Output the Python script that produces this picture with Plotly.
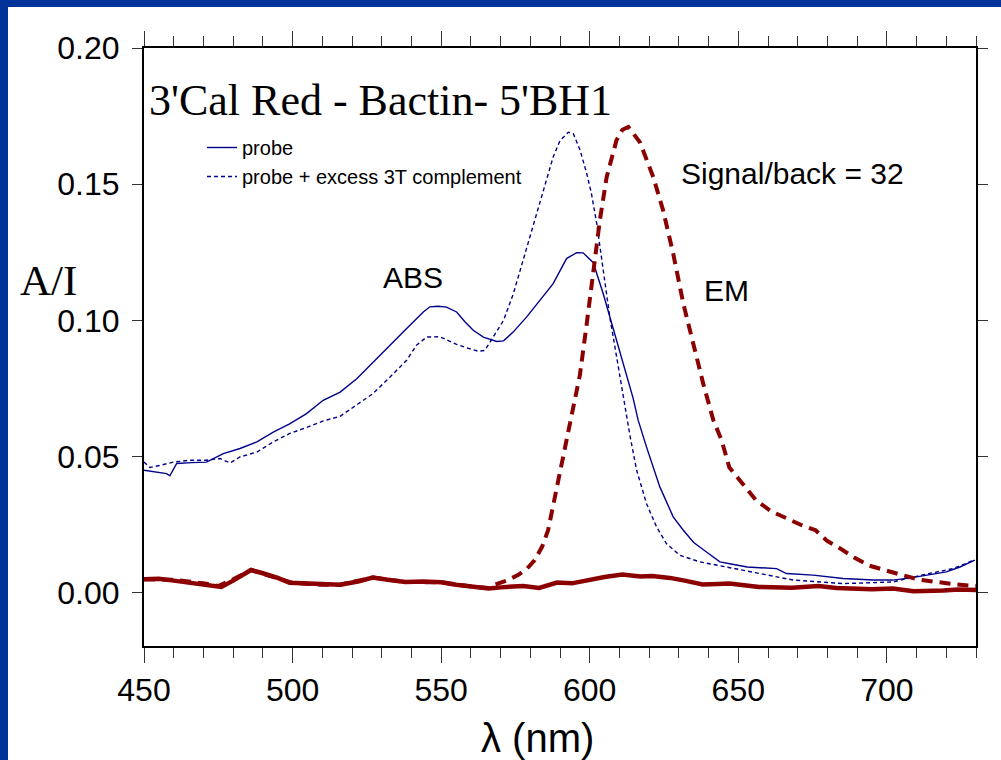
import plotly.graph_objects as go

# ---------------- data ----------------
probe_wl = [450, 454, 457.6, 458.7, 461, 466, 471, 476.7, 482.3, 488, 493.5, 499, 504.7, 510.3, 516, 521.6,
            527, 532.8, 538.4, 544, 546.2, 549, 551.8, 555.2, 558, 560.8, 564.2, 568.7, 571, 574.3, 578.8,
            583.2, 587.7, 592.2, 595.6, 597.8, 601.2, 604.5, 607.9, 611.3, 614.6, 616.3, 619.1, 623.6, 628.1,
            631.5, 635, 639.3, 643.8, 648, 653, 662.9, 666.2, 675.2, 685.3, 695.4, 702, 708, 713.3, 720,
            724.6, 729.6]
probe_abs = [0.045, 0.0445, 0.0438, 0.043, 0.0475, 0.0478, 0.048, 0.0511, 0.053, 0.0554, 0.059, 0.062, 0.0658,
             0.0707, 0.0737, 0.0786, 0.0847, 0.0909, 0.097, 0.1031, 0.105, 0.1052, 0.1049, 0.1031, 0.0995,
             0.0964, 0.0939, 0.0923, 0.0925, 0.0958, 0.1013, 0.1074, 0.1135, 0.1227, 0.1249, 0.1248, 0.1212,
             0.110, 0.097, 0.085, 0.0715, 0.0634, 0.0536, 0.0389, 0.0279, 0.023, 0.0185, 0.015, 0.0114, 0.0105,
             0.0095, 0.0089, 0.0071, 0.0065, 0.0053, 0.0047, 0.0047, 0.0055, 0.0065, 0.0077, 0.0095, 0.012]

complement_wl = [450, 452, 455.4, 459.9, 465.5, 471, 475.6, 479, 482.3, 488, 493.5, 499, 504.7, 510.3, 516,
                 521.6, 527, 532.8, 538.4, 541.7, 545.1, 549.6, 555.2, 559.1, 562.5, 564.7, 567.5, 571, 574.3,
                 577.6, 581, 584.3, 587.7, 590, 592.8, 594.5, 596.7, 599, 600.5, 602.3, 604.5, 606.8, 609,
                 611.3, 613.5, 615.8, 619.1, 622.5, 625.8, 630.3, 637, 646, 657.2, 668.5, 685.3, 702, 713.3,
                 722.3, 729.6]
complement_abs = [0.048, 0.046, 0.0468, 0.048, 0.0487, 0.0487, 0.0493, 0.0477, 0.0499, 0.0517, 0.0554, 0.0585,
                  0.0607, 0.0631, 0.0648, 0.0689, 0.0731, 0.0792, 0.0854, 0.0909, 0.0939, 0.094, 0.0912,
                  0.0898, 0.0887, 0.089, 0.0939, 0.1, 0.1098, 0.122, 0.1343, 0.1465, 0.16, 0.166, 0.1691,
                  0.1685, 0.1627, 0.1539, 0.147, 0.136, 0.118, 0.101, 0.087, 0.072, 0.058, 0.045, 0.0328,
                  0.0242, 0.0181, 0.0138, 0.0114, 0.0095, 0.0071, 0.0047, 0.0034, 0.004, 0.0069, 0.0089, 0.0121]

em_wl = [450, 460, 470, 475, 480, 486, 490, 500, 510, 516, 527, 538, 550, 561, 566, 568, 572, 576, 579, 581.5,
         584, 586, 589, 593, 596.7, 599, 601.2, 603.4, 605.7, 609, 611, 613, 616.9, 621.4, 624.7, 628.1,
         631.5, 634.8, 638.2, 641.6, 644.4, 647, 652, 656, 661, 666, 671, 676, 680, 684, 689, 694, 700, 705,
         711, 716, 722, 728, 730]
em_int = [0.005, 0.0048, 0.0035, 0.0025, 0.005, 0.0084, 0.007, 0.0037, 0.003, 0.003, 0.0056, 0.004, 0.0039,
          0.0022, 0.0018, 0.003, 0.0045, 0.0066, 0.009, 0.012, 0.017, 0.023, 0.039, 0.061, 0.08, 0.0988,
          0.1184, 0.1367, 0.1526, 0.1661, 0.170, 0.171, 0.1654, 0.1526, 0.1404, 0.1245, 0.1062, 0.0915,
          0.0768, 0.0634, 0.056, 0.046, 0.039, 0.034, 0.030, 0.0275, 0.025, 0.023, 0.019, 0.0165, 0.013,
          0.010, 0.008, 0.0066, 0.0048, 0.004, 0.0033, 0.0026, 0.0025]

base_wl = [450, 455, 460, 465, 470, 476, 480, 486, 490, 495, 499, 505, 510, 516, 522, 527, 532, 538, 544, 550,
           555, 561, 566, 572, 577.6, 583, 589, 594, 600, 605, 611, 617, 621, 627, 632, 638, 643, 647, 652,
           657, 668, 677, 683, 689, 695, 702, 709, 719, 724, 730]
base_int = [0.005, 0.0052, 0.0045, 0.0038, 0.003, 0.0022, 0.0045, 0.0084, 0.0072, 0.0055, 0.0037, 0.0035,
            0.003, 0.003, 0.0042, 0.0056, 0.0048, 0.004, 0.0042, 0.0039, 0.003, 0.0022, 0.0016, 0.0022,
            0.0025, 0.0018, 0.0038, 0.0035, 0.0048, 0.0058, 0.0067, 0.006, 0.0062, 0.0055, 0.0045, 0.0031,
            0.0033, 0.0034, 0.0028, 0.0022, 0.0019, 0.0025, 0.0018, 0.0014, 0.0013, 0.0016, 0.0006, 0.0009,
            0.0012, 0.0011]

x_ticks = [450, 500, 550, 600, 650, 700]
y_ticks = [0.00, 0.05, 0.10, 0.15, 0.20]

BLUE = "#00008B"
RED = "#8B0000"
BAND = "#003399"

fig = go.Figure()
fig.add_trace(go.Scatter(x=probe_wl, y=probe_abs, mode="lines", name="probe",
                         line=dict(color=BLUE, width=1.4)))
fig.add_trace(go.Scatter(x=complement_wl, y=complement_abs, mode="lines",
                         name="probe + excess 3T complement",
                         line=dict(color=BLUE, width=1.4, dash="4px,3px")))
fig.add_trace(go.Scatter(x=base_wl, y=base_int, mode="lines", name="probe (EM)", showlegend=False,
                         line=dict(color=RED, width=4.5)))
fig.add_trace(go.Scatter(x=em_wl, y=em_int, mode="lines", name="probe + complement (EM)", showlegend=False,
                         line=dict(color=RED, width=4, dash="11px,7px")))

W, H = 1001, 760
L, R, T, B = 144, 25, 48, 114
pw, ph = W - L - R, H - T - B


def px_to_paper_x(px):
    return (px - L) / pw


def px_to_paper_y(py):
    return (H - B - py) / ph


axis_common = dict(showline=True, linecolor="black", linewidth=2, mirror="allticks",
                   ticks="outside", tickcolor="#333333", tickwidth=1,
                   showgrid=False, zeroline=False,
                   tickfont=dict(family="Liberation Sans, Arial", size=32, color="black"))

fig.update_layout(
    width=W, height=H,
    margin=dict(l=L, r=R, t=T, b=B, pad=0),
    paper_bgcolor="white", plot_bgcolor="white",
    xaxis=dict(range=[450, 730], tickvals=x_ticks, ticklen=15,
               minor=dict(dtick=10, tick0=450, ticks="outside", ticklen=10, tickcolor="#333333", tickwidth=1),
               **axis_common),
    yaxis=dict(range=[-0.0195, 0.20], tickvals=y_ticks, tickformat=".2f", ticklen=10,
               ticklabelstandoff=6, **axis_common),
    legend=dict(x=px_to_paper_x(202), y=px_to_paper_y(128), xanchor="left", yanchor="top",
                bgcolor="rgba(0,0,0,0)", font=dict(family="Liberation Sans, Arial", size=20, color="black"),
                tracegroupgap=0),
    showlegend=True,
    font=dict(family="Liberation Sans, Arial", color="black"),
)

annotations = [
    dict(text="3'Cal Red - Bactin- 5'BH1", xref="paper", yref="paper", x=px_to_paper_x(147), y=px_to_paper_y(100),
         xanchor="left", yanchor="middle", showarrow=False,
         font=dict(family="Liberation Serif, Times New Roman", size=44, color="black")),
    dict(text="A/I", xref="paper", yref="paper", x=px_to_paper_x(48), y=px_to_paper_y(280),
         xanchor="center", yanchor="middle", showarrow=False,
         font=dict(family="Liberation Serif, Times New Roman", size=43, color="black")),
    dict(text="λ (nm)", xref="paper", yref="paper", x=px_to_paper_x(537), y=px_to_paper_y(738),
         xanchor="center", yanchor="middle", showarrow=False,
         font=dict(family="Liberation Sans, Arial", size=40, color="black")),
    dict(text="ABS", x=540.5, y=0.1158, xref="x", yref="y", showarrow=False,
         font=dict(family="Liberation Sans, Arial", size=30, color="black")),
    dict(text="EM", x=646.2, y=0.111, xref="x", yref="y", showarrow=False,
         font=dict(family="Liberation Sans, Arial", size=30, color="black")),
    dict(text="Signal/back = 32", x=668.4, y=0.154, xref="x", yref="y", showarrow=False,
         font=dict(family="Liberation Sans, Arial", size=30, color="black")),
]
fig.update_layout(annotations=annotations)

# blue presentation border (top and left bands)
fig.add_shape(type="rect", xref="paper", yref="paper", x0=px_to_paper_x(0), x1=px_to_paper_x(W),
              y0=px_to_paper_y(7), y1=px_to_paper_y(0), fillcolor=BAND, line=dict(width=0), layer="above")
fig.add_shape(type="rect", xref="paper", yref="paper", x0=px_to_paper_x(0), x1=px_to_paper_x(8),
              y0=px_to_paper_y(H), y1=px_to_paper_y(0), fillcolor=BAND, line=dict(width=0), layer="above")

fig.write_html("out.html", config={"displayModeBar": False},
               post_script="document.body.style.margin='0';")
